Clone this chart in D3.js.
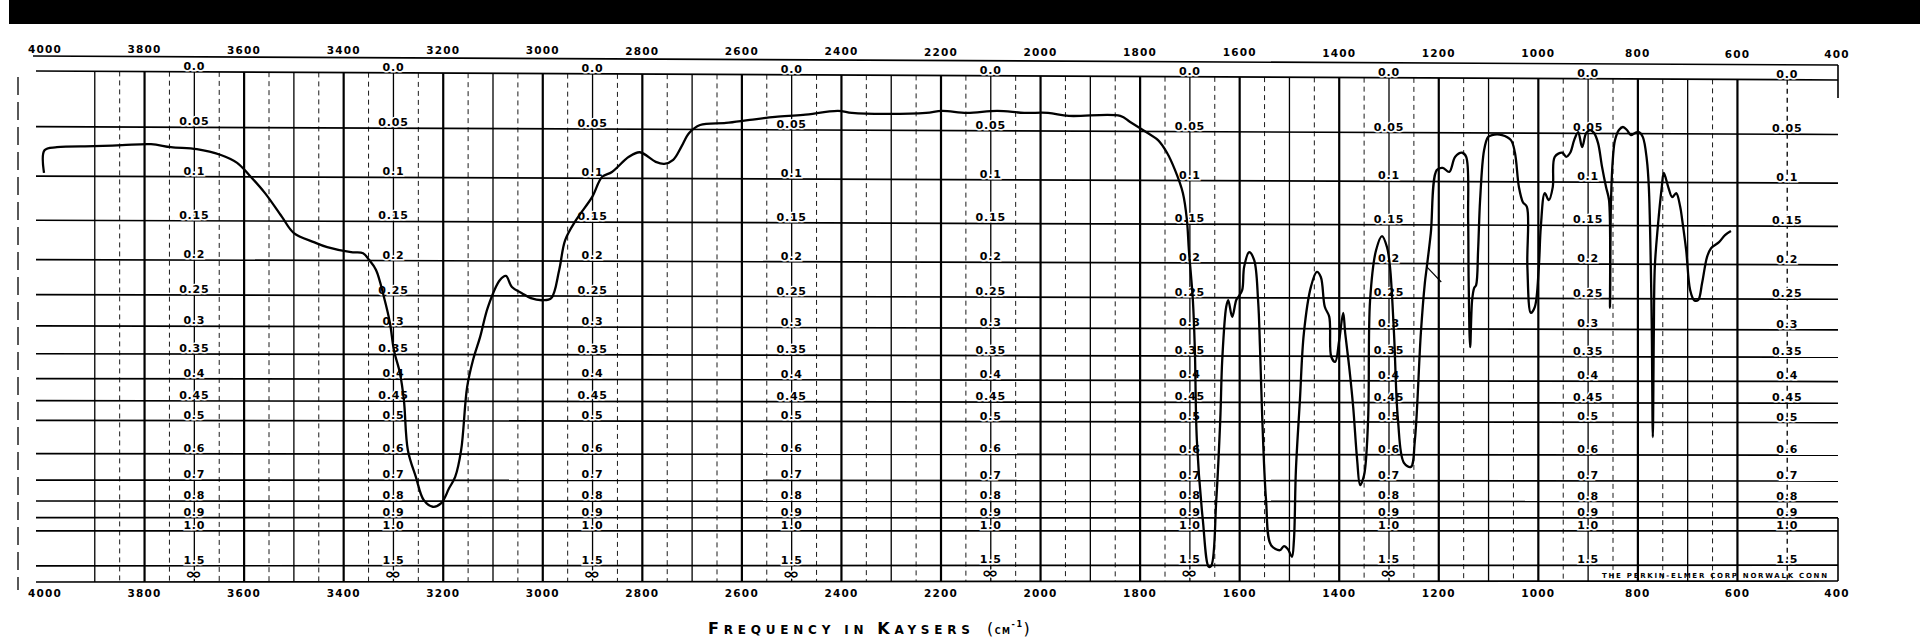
<!DOCTYPE html>
<html>
<head>
<meta charset="utf-8">
<script src="https://cdnjs.cloudflare.com/ajax/libs/d3/7.8.5/d3.min.js"></script>
<style>
  body { margin: 0; background: #fff; }
  svg { display: block; }
  .lab { font-family: "DejaVu Sans", sans-serif; font-weight: bold; fill: #000; }
</style>
</head>
<body>
<script>
// Frequency ticks (top and bottom)
var freqTicks = [4000, 3800, 3600, 3400, 3200, 3000, 2800, 2600, 2400, 2200, 2000, 1800, 1600, 1400, 1200, 1000, 800, 600, 400];

// Absorbance rows and their labels
var absValues = [0, 0.05, 0.1, 0.15, 0.2, 0.25, 0.3, 0.35, 0.4, 0.45, 0.5, 0.6, 0.7, 0.8, 0.9, 1.0, 1.5, Infinity];
var absLabels = ["0.0", "0.05", "0.1", "0.15", "0.2", "0.25", "0.3", "0.35", "0.4", "0.45", "0.5", "0.6", "0.7", "0.8", "0.9", "1.0", "1.5", "∞"];

// Columns where the absorbance labels are printed
var labelCols = [3700, 3300, 2900, 2500, 2100, 1700, 1300, 900, 500];

// Spectrum (wavenumber cm-1, % transmittance)
var wavenumber = [4002, 4001, 3976, 3902, 3845, 3787, 3747, 3695, 3648, 3614, 3590, 3558, 3524, 3500, 3460, 3433, 3385, 3361, 3349, 3335,
  3319, 3307, 3299, 3287, 3279, 3271, 3255, 3239, 3221, 3204, 3188, 3176, 3164, 3152, 3140, 3126, 3110, 3086, 3074, 3062,
  3042, 3024, 3000, 2983, 2967, 2955, 2933, 2901, 2881, 2861, 2827, 2805, 2773, 2756, 2738, 2722, 2706, 2684, 2632, 2584,
  2533, 2477, 2407, 2379, 2312, 2230, 2198, 2148, 2087, 2033, 1985, 1943, 1840, 1820, 1788, 1764, 1746, 1730, 1714, 1706,
  1702, 1694, 1690, 1686, 1674, 1662, 1657, 1647, 1639, 1635, 1627, 1623, 1615, 1607, 1603, 1595, 1591, 1581, 1571, 1563,
  1559, 1555, 1547, 1537, 1519, 1511, 1503, 1495, 1491, 1487, 1479, 1471, 1457, 1445, 1437, 1429, 1420, 1416, 1408, 1400,
  1392, 1388, 1380, 1372, 1364, 1358, 1350, 1342, 1338, 1326, 1314, 1304, 1298, 1290, 1282, 1270, 1256, 1248, 1236, 1228,
  1224, 1216, 1204, 1192, 1179, 1167, 1153, 1145, 1141, 1140, 1137, 1133, 1129, 1125, 1121, 1117, 1109, 1101, 1093, 1073,
  1055, 1047, 1039, 1031, 1023, 1022, 1015, 1007, 999, 995, 987, 979, 971, 967, 952, 944, 936, 928, 920, 912,
  904, 896, 888, 880, 872, 864, 858, 856, 854, 850, 846, 838, 830, 822, 814, 806, 798, 790, 782, 778,
  774, 772, 770, 768, 766, 760, 752, 748, 739, 731, 723, 715, 711, 703, 695, 687, 679, 671, 661, 653,
  637, 625, 613];
var transmittance = [81.0, 85.5, 86.1, 86.3, 86.5, 86.7, 86.1, 85.7, 84.6, 83.0, 80.6, 77.0, 72.3, 69.1, 67.3, 66.3, 65.3, 65.1, 63.8, 61.8,
  56.4, 51.3, 45.9, 41.4, 36.0, 26.1, 20.8, 16.2, 14.9, 15.6, 18.6, 20.8, 26.1, 38.6, 44.0, 48.5, 54.5, 59.8, 60.6, 58.4,
  57.2, 56.2, 55.8, 56.2, 61.8, 67.7, 71.7, 76.2, 80.2, 81.2, 84.2, 85.1, 83.2, 82.8, 83.6, 86.1, 88.9, 90.5, 90.9, 91.5,
  92.1, 92.5, 93.3, 92.9, 92.7, 92.9, 93.3, 92.9, 93.3, 92.9, 92.9, 92.3, 92.3, 91.1, 89.1, 87.5, 85.0, 81.6, 77.0, 71.7,
  65.7, 55.8, 45.9, 28.1, 12.3, 3.0, 3.2, 16.2, 32.1, 44.0, 54.5, 55.8, 52.5, 55.8, 56.4, 57.8, 62.4, 65.3, 63.8, 55.8,
  45.9, 33.5, 16.2, 7.3, 6.3, 7.1, 6.5, 5.0, 8.3, 22.2, 36.0, 49.3, 58.4, 61.4, 60.4, 54.5, 52.5, 44.6, 43.6, 47.9,
  53.3, 49.3, 42.6, 34.7, 24.2, 19.2, 21.2, 32.1, 55.8, 65.7, 68.5, 66.3, 62.4, 49.3, 32.1, 23.6, 22.8, 28.1, 49.3, 59.2,
  62.4, 69.1, 81.6, 82.0, 81.2, 84.2, 85.0, 84.2, 71.7, 59.8, 46.5, 55.8, 58.2, 58.8, 65.7, 75.6, 85.5, 88.1, 88.5, 88.5,
  87.5, 85.0, 78.2, 75.2, 74.3, 62.4, 53.3, 54.5, 62.4, 70.3, 77.0, 75.6, 78.2, 84.2, 85.0, 84.2, 85.0, 87.5, 89.1, 86.1,
  88.9, 89.5, 88.9, 86.9, 82.2, 78.2, 75.6, 54.3, 75.6, 84.2, 87.5, 89.5, 90.1, 89.5, 88.5, 88.9, 89.1, 88.1, 83.6, 78.2,
  62.4, 49.3, 28.7, 49.3, 62.4, 70.3, 78.2, 81.0, 78.2, 76.2, 77.0, 74.3, 71.7, 65.7, 57.8, 55.8, 55.8, 59.2, 64.4, 66.1,
  67.3, 68.7, 69.5];

// Short stray pen stroke next to the 1230 band
var strayWave = [1224, 1195];
var strayT = [62.4, 59.4];

var width = 1920, height = 640;
var gridLeft = 36, gridRight = 1838;

var svg = d3.select("body").append("svg")
    .attr("width", width)
    .attr("height", height);

// Scale x (linear in wavenumber, high to low)
var xScale = d3.scaleLinear().domain([4000, 400]).range([45, 1837]);

// Scale y, linear in transmittance. The scanned sheet is a little skewed,
// so the grid uses a left and a right scale; the trace uses the mean one.
var yScale = d3.scaleLinear().domain([0, 100]).range([582, 77]);
var yLeft = d3.scaleLinear().domain([0, 1]).range([582, 71]);
var yRight = d3.scaleLinear().domain([0, 1]).range([581, 80]);

function toT(a) { return a === Infinity ? 0 : Math.pow(10, -a); }
function rowY(a, x) {
  var t = (x - gridLeft) / (gridRight - gridLeft);
  return yLeft(toT(a)) + (yRight(toT(a)) - yLeft(toT(a))) * t;
}

// Black strip at the top of the scan
svg.append("rect")
    .attr("x", 9).attr("y", 0)
    .attr("width", width - 9).attr("height", 24)
    .attr("fill", "#000");

// Top frame line and right frame pieces
svg.append("line")
    .attr("x1", 33).attr("y1", 56)
    .attr("x2", gridRight).attr("y2", 65)
    .attr("stroke", "#000").attr("stroke-width", 1.6);
svg.append("line")
    .attr("x1", gridRight).attr("y1", 65)
    .attr("x2", gridRight).attr("y2", 98)
    .attr("stroke", "#000").attr("stroke-width", 1.6);
svg.append("line")
    .attr("x1", gridRight).attr("y1", rowY(0.9, gridRight))
    .attr("x2", gridRight).attr("y2", rowY(Infinity, gridRight))
    .attr("stroke", "#000").attr("stroke-width", 1.6);

// Dashed left edge
svg.append("line")
    .attr("x1", 18).attr("y1", 77)
    .attr("x2", 18).attr("y2", 590)
    .attr("stroke", "#000").attr("stroke-width", 1.3)
    .attr("stroke-dasharray", "18,7");

// Vertical grid, every 50 cm-1 down to 600, plus the 500 label column
var vCols = d3.range(3900, 599, -50).concat([500]);
svg.append("g").selectAll("line").data(vCols).enter().append("line")
    .attr("x1", function(d) { return xScale(d); })
    .attr("x2", function(d) { return xScale(d); })
    .attr("y1", function(d) { return rowY(0, xScale(d)); })
    .attr("y2", function(d) { return rowY(Infinity, xScale(d)); })
    .attr("stroke", "#000")
    .attr("stroke-width", function(d) { return d % 200 === 0 ? 2.2 : (d % 100 === 0 ? 1.3 : 0.9); })
    .attr("stroke-dasharray", function(d) { return (d % 100 === 0 && d !== 500) ? null : "5,4"; });

// Horizontal absorbance rows
svg.append("g").selectAll("line").data(absValues).enter().append("line")
    .attr("x1", gridLeft).attr("x2", gridRight)
    .attr("y1", function(d) { return rowY(d, gridLeft); })
    .attr("y2", function(d) { return rowY(d, gridRight); })
    .attr("stroke", "#000")
    .attr("stroke-width", 1.7);

// Absorbance labels in each label column (no infinity sign inside the maker's box)
var cells = [];
labelCols.forEach(function(c) {
  absValues.forEach(function(a, i) {
    if (a === Infinity && c <= 900) return;
    cells.push({col: c, a: a, text: absLabels[i]});
  });
});
svg.append("g").selectAll("text").data(cells).enter().append("text")
    .attr("class", "lab")
    .attr("x", function(d) { return xScale(d.col); })
    .attr("y", function(d) { return rowY(d.a, xScale(d.col)) - (d.a === Infinity ? 3 : 2); })
    .attr("text-anchor", "middle")
    .attr("font-size", function(d) { return d.a === Infinity ? 15 : 11; })
    .attr("letter-spacing", 0.8)
    .attr("textLength", function(d) { return d.a === Infinity ? 18 : null; })
    .attr("lengthAdjust", "spacingAndGlyphs")
    .attr("stroke", "#fff").attr("stroke-width", 3)
    .attr("paint-order", "stroke")
    .text(function(d) { return d.text; });

// Frequency labels, top and bottom
svg.append("g").selectAll("text").data(freqTicks).enter().append("text")
    .attr("class", "lab")
    .attr("x", function(d) { return xScale(d); })
    .attr("y", function(d) { return 53 + 5 * (xScale(d) - 45) / 1792; })
    .attr("text-anchor", "middle")
    .attr("font-size", 10.5)
    .attr("letter-spacing", 1.2)
    .text(function(d) { return d; });
svg.append("g").selectAll("text").data(freqTicks).enter().append("text")
    .attr("class", "lab")
    .attr("x", function(d) { return xScale(d); })
    .attr("y", 597)
    .attr("text-anchor", "middle")
    .attr("font-size", 10.5)
    .attr("letter-spacing", 1.2)
    .text(function(d) { return d; });

// Make the spectrum line
var points = wavenumber.map(function(w, i) { return [w, transmittance[i]]; });
var line = d3.line()
    .x(function(d) { return xScale(d[0]); })
    .y(function(d) { return yScale(d[1]); })
    .curve(d3.curveCatmullRom.alpha(0.5));

svg.append("path")
    .datum(points)
    .attr("d", line)
    .attr("fill", "none")
    .attr("stroke", "#000")
    .attr("stroke-width", 2.3)
    .attr("stroke-linejoin", "round");

// Stray pen stroke
svg.append("path")
    .datum(strayWave.map(function(w, i) { return [w, strayT[i]]; }))
    .attr("d", d3.line()
        .x(function(d) { return xScale(d[0]); })
        .y(function(d) { return yScale(d[1]); }))
    .attr("fill", "none")
    .attr("stroke", "#000")
    .attr("stroke-width", 1.2);

// Maker's imprint in the bottom right box
svg.append("text")
    .attr("class", "lab")
    .attr("x", 1602).attr("y", 578)
    .attr("font-size", 7)
    .attr("textLength", 225)
    .attr("lengthAdjust", "spacing")
    .text("THE PERKIN-ELMER CORP NORWALK CONN");

// Axis title
var title = svg.append("text")
    .attr("class", "lab")
    .attr("x", 708).attr("y", 634)
    .attr("textLength", 262)
    .attr("lengthAdjust", "spacing");
title.append("tspan").attr("font-size", 16).text("F");
title.append("tspan").attr("font-size", 12).text("REQUENCY IN ");
title.append("tspan").attr("font-size", 16).text("K");
title.append("tspan").attr("font-size", 12).text("AYSERS");

var unit = svg.append("text")
    .attr("class", "lab")
    .attr("x", 987).attr("y", 634)
    .attr("letter-spacing", 1.5);
unit.append("tspan").attr("font-size", 16).attr("font-weight", "normal").text("(");
unit.append("tspan").attr("font-size", 8).text("CM");
unit.append("tspan").attr("font-size", 8).attr("dy", -7).text("-1");
unit.append("tspan").attr("font-size", 16).attr("font-weight", "normal").attr("dy", 7).text(")");
</script>
</body>
</html>
